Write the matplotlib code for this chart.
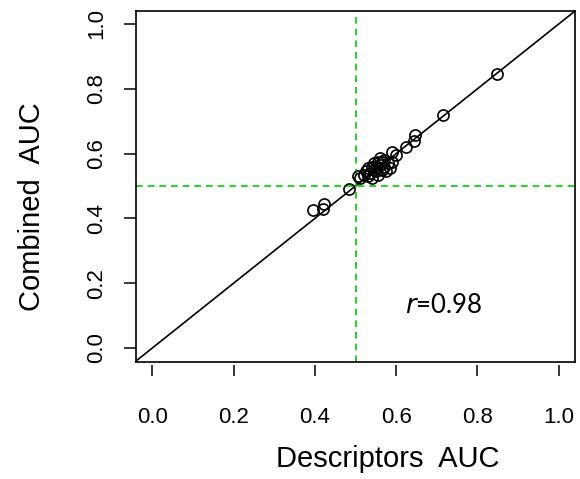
import matplotlib
matplotlib.use("Agg")
import matplotlib.pyplot as plt

# AUC per target: descriptors only vs combined model
desc_auc = [0.848, 0.715, 0.646, 0.645, 0.625, 0.600, 0.590, 0.590, 0.585,
            0.580, 0.575, 0.570, 0.570, 0.565, 0.565, 0.560, 0.560, 0.555,
            0.555, 0.550, 0.550, 0.545, 0.545, 0.540, 0.540, 0.535, 0.530,
            0.530, 0.525, 0.520, 0.510, 0.505, 0.485, 0.423, 0.420, 0.395]
comb_auc = [0.846, 0.720, 0.658, 0.640, 0.620, 0.595, 0.605, 0.575, 0.555,
            0.570, 0.545, 0.580, 0.560, 0.575, 0.550, 0.585, 0.565, 0.535,
            0.575, 0.560, 0.545, 0.570, 0.550, 0.525, 0.560, 0.540, 0.555,
            0.530, 0.545, 0.535, 0.525, 0.530, 0.490, 0.443, 0.430, 0.425]
ticks = [0.0, 0.2, 0.4, 0.6, 0.8, 1.0]
r_value = 0.98

plt.rcParams['font.family'] = ['Liberation Sans', 'DejaVu Sans']

fig = plt.figure(figsize=(5.8, 4.79), dpi=100)
ax = fig.add_axes([0.2345, 0.2443, 0.7569, 0.7327])

lim = (-0.04, 1.04)
ax.set_xlim(lim)
ax.set_ylim(-0.043, 1.04)

# diagonal y = x, and reference lines at 0.5
ax.plot([lim[0] - 1, lim[1] + 1], [lim[0] - 1, lim[1] + 1], color='black', lw=1.2)
ax.axvline(0.5, color='#00cd00', ls=(0, (4, 3)), lw=1.2)
ax.axhline(0.5, color='#00cd00', ls=(0, (4, 3)), lw=1.2)

ax.plot(desc_auc, comb_auc, 'o', mfc='none', mec='black', ms=8, mew=1.2)

for s in ax.spines.values():
    s.set_linewidth(1.2)

# y axis: rotated tick labels like R
ax.set_yticks(ticks)
ax.set_yticklabels([f'{t:.1f}' for t in ticks], rotation=90, va='center')
ax.tick_params(axis='y', direction='out', length=9, width=1.1, pad=12, labelsize=16)

# x axis drawn slightly below the box
ax.set_xticks([])
sec = ax.secondary_xaxis(-0.009)
sec.set_xticks(ticks)
sec.set_xticklabels([f'{t:.1f}' for t in ticks])
sec.spines['bottom'].set_visible(False)
sec.tick_params(axis='x', direction='out', length=8, width=1.1, pad=22, labelsize=16)

ax.text(0.811, 0.108, f'$\\it{{r}}$={r_value}', ha='right', va='baseline',
        fontsize=18.5, family=['Lato', 'DejaVu Sans'])

fig.text(0.669, 0.025, 'Descriptors  AUC', ha='center', va='baseline', fontsize=21)
fig.text(0.055, 0.568, 'Combined  AUC', ha='center', va='center', rotation=90, fontsize=21)

fig.savefig('out.png', dpi=100)
